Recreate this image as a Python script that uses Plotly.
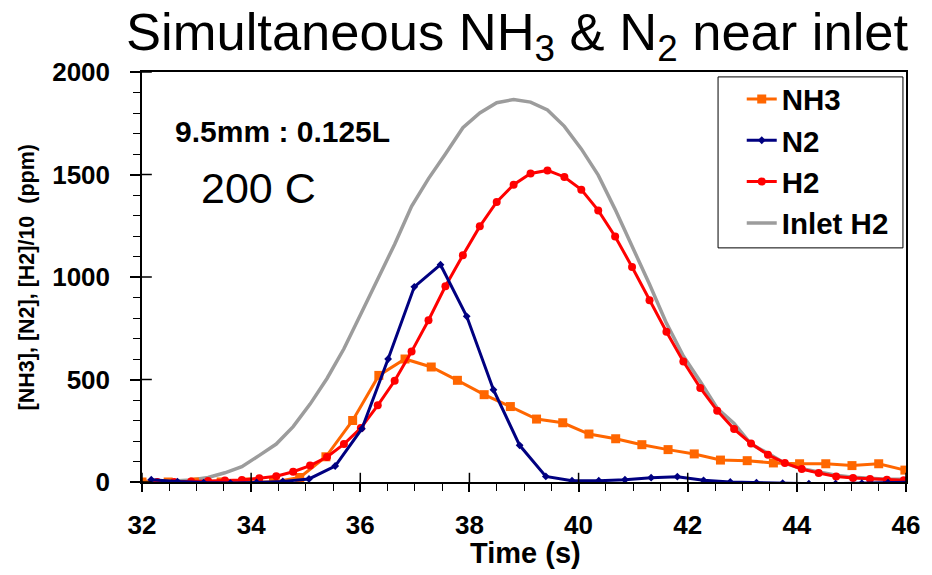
import plotly.graph_objects as go

# ---- data ----
nh3_t = [32.00, 32.48, 32.96, 33.45, 33.93, 34.41, 34.89, 35.37, 35.86, 36.34,
         36.82, 37.30, 37.78, 38.27, 38.75, 39.23, 39.71, 40.19, 40.68, 41.16,
         41.64, 42.12, 42.60, 43.09, 43.57, 44.05, 44.53, 45.01, 45.50, 45.98]
nh3_v = [0, 0, 0, 0, 0, 0, 22, 123, 300, 520,
         600, 561, 496, 426, 368, 307, 289, 234, 211, 182,
         158, 137, 107, 104, 93, 89, 89, 80, 89, 58]

n2_t = [32.17, 32.65, 33.13, 33.62, 34.10, 34.58, 35.06, 35.54, 36.03, 36.51,
        36.99, 37.47, 37.95, 38.44, 38.92, 39.40, 39.88, 40.37, 40.85, 41.33,
        41.81, 42.29, 42.78, 43.26, 43.74, 44.22, 44.71, 45.19, 45.67, 46.15]
n2_v = [11, 2, -3, -5, -2, 3, 15, 78, 260, 600,
        952, 1060, 808, 450, 179, 27, 6, 6, 11, 21,
        26, 8, 0, -3, -6, -8, -8, -6, -3, 0]

h2_t = [32.28, 32.59, 32.90, 33.21, 33.52, 33.83, 34.15, 34.46, 34.77, 35.08,
        35.39, 35.70, 36.01, 36.32, 36.63, 36.94, 37.25, 37.56, 37.88, 38.19,
        38.50, 38.81, 39.12, 39.43, 39.74, 40.05, 40.36, 40.67, 40.98, 41.30,
        41.61, 41.92, 42.23, 42.54, 42.85, 43.16, 43.47, 43.78, 44.09, 44.40,
        44.72, 45.03, 45.34, 45.65, 45.96]
h2_v = [0, 0, 3, 5, 7, 10, 18, 28, 50, 80,
        122, 185, 263, 374, 494, 636, 789, 955, 1106, 1247,
        1366, 1450, 1505, 1520, 1488, 1426, 1325, 1198, 1049, 886,
        733, 588, 459, 348, 258, 188, 133, 93, 63, 44,
        27, 20, 15, 11, 8]

inlet_t = [31.97] + h2_t
inlet_v = [2, 3, 5, 10, 22, 45, 75, 130, 185, 270, 380,
           505, 650, 820, 992, 1160, 1345, 1480, 1600, 1728, 1800,
           1850, 1866, 1853, 1815, 1735, 1625, 1497, 1330, 1155, 965,
           775, 615, 490, 360, 285, 185, 140, 92, 65, 50,
           33, 23, 17, 14, 13]

x_major = [32, 34, 36, 38, 40, 42, 44, 46]
y_major = [0, 500, 1000, 1500, 2000]

FONT = "Liberation Sans, Arial, sans-serif"

fig = go.Figure()
fig.add_trace(go.Scatter(x=inlet_t, y=inlet_v, name="Inlet H2", mode="lines",
                         line=dict(color="#9c9c9c", width=3.5), legendrank=4))
fig.add_trace(go.Scatter(x=nh3_t, y=nh3_v, name="NH3", mode="lines+markers",
                         line=dict(color="#ff6600", width=3),
                         marker=dict(symbol="square", size=9, color="#ff6600"), legendrank=1))
fig.add_trace(go.Scatter(x=h2_t, y=h2_v, name="H2", mode="lines+markers",
                         line=dict(color="#ff0000", width=3),
                         marker=dict(symbol="circle", size=8, color="#ff0000"), legendrank=3))
fig.add_trace(go.Scatter(x=n2_t, y=n2_v, name="N2", mode="lines+markers",
                         line=dict(color="#000080", width=3),
                         marker=dict(symbol="diamond", size=6, color="#000080"), legendrank=2))

shapes = []
# inner part of crossing major ticks
for xv in x_major:
    shapes.append(dict(type="line", xref="x", yref="y", x0=xv, x1=xv, y0=0, y1=45,
                       line=dict(color="black", width=1.5)))
for yv in y_major:
    shapes.append(dict(type="line", xref="x", yref="y", x0=32, x1=32.18, y0=yv, y1=yv,
                       line=dict(color="black", width=1.5)))
# legend frame
shapes.append(dict(type="rect", xref="paper", yref="paper", x0=0.754, x1=0.996,
                   y0=0.571, y1=0.988, line=dict(color="black", width=1), fillcolor="rgba(0,0,0,0)"))

fig.update_layout(
    width=924, height=567,
    margin=dict(l=134, r=17, t=64, b=93),
    paper_bgcolor="white", plot_bgcolor="white",
    font=dict(family=FONT, color="black"),
    title=dict(text="Simultaneous NH<sub>3</sub> &amp; N<sub>2</sub> near inlet",
               x=0.551, xanchor="center", y=0.9577, yanchor="middle",
               font=dict(size=52.5, family=FONT, color="black")),
    showlegend=True,
    legend=dict(x=0.785, xanchor="left", y=0.997, yanchor="top",
                bgcolor="rgba(0,0,0,0)", borderwidth=0,
                font=dict(size=29.5, family=FONT, color="black", weight="bold"),
                traceorder="normal", itemwidth=30),
    shapes=shapes,
    xaxis=dict(range=[32, 46], tickvals=x_major, ticks="outside", ticklen=8, tickwidth=1.5,
               tickcolor="black", showline=True, linecolor="black", linewidth=1.5, mirror=True,
               showgrid=False, zeroline=False,
               tickfont=dict(size=26, family=FONT, color="black", weight="bold"),
               ticklabelstandoff=11,
               minor=dict(dtick=0.5, ticks="outside", ticklen=7, tickwidth=1, tickcolor="black")),
    yaxis=dict(range=[0, 2000], tickvals=y_major, ticks="outside", ticklen=10, tickwidth=1.5,
               tickcolor="black", showline=True, linecolor="black", linewidth=1.5, mirror=True,
               showgrid=False, zeroline=False,
               tickfont=dict(size=26, family=FONT, color="black", weight="bold"),
               ticklabelstandoff=15,
               minor=dict(dtick=100, ticks="outside", ticklen=7, tickwidth=1, tickcolor="black")),
    annotations=[
        dict(text="[NH3], [N2], [H2]/10 \u00a0(ppm)", xref="paper", yref="paper",
             x=-0.150, y=0.5, textangle=-90, showarrow=False, xanchor="center", yanchor="middle",
             font=dict(size=21.5, family=FONT, color="black", weight="bold")),
        dict(text="Time (s)", xref="paper", yref="paper", x=0.502, y=-0.173,
             showarrow=False, xanchor="center", yanchor="middle",
             font=dict(size=29, family=FONT, color="black", weight="bold")),
        dict(text="9.5mm : 0.125L", xref="paper", yref="paper", x=0.184, y=0.854,
             showarrow=False, xanchor="center", yanchor="middle",
             font=dict(size=30, family=FONT, color="black", weight="bold")),
        dict(text="200 C", xref="paper", yref="paper", x=0.153, y=0.717,
             showarrow=False, xanchor="center", yanchor="middle",
             font=dict(size=43, family=FONT, color="black")),
    ],
)

fig.write_html("out.html")
